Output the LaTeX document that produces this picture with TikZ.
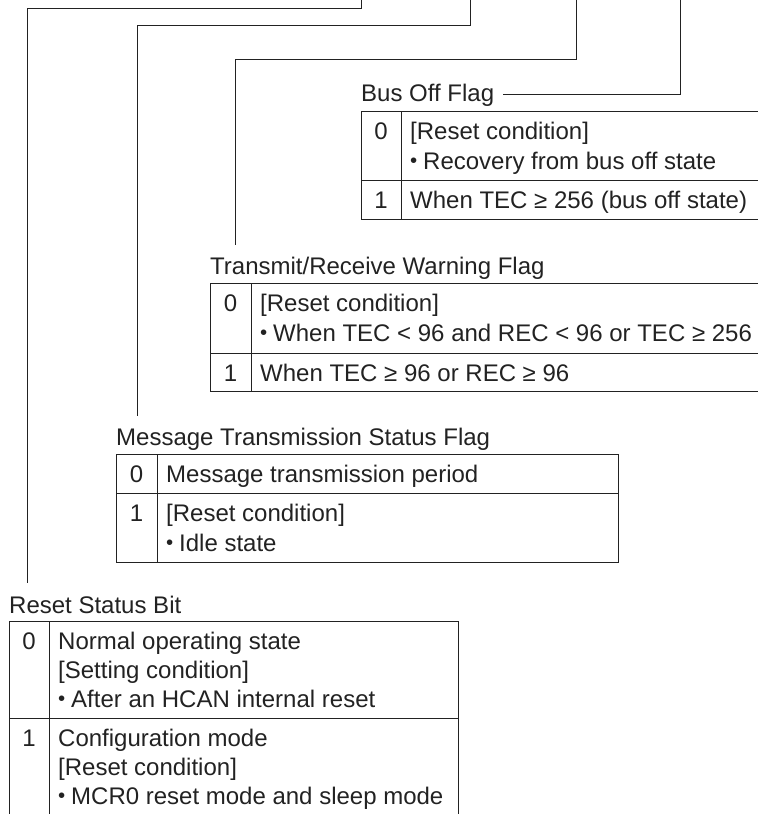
\documentclass[tikz,border=0pt]{standalone}
\usepackage{fontspec}
\setmainfont{Liberation Sans}
\definecolor{ink}{HTML}{222222}
\newcommand{\bul}{\makebox[13pt][l]{\raisebox{1.4pt}{\scalebox{0.85}{•}}}}
\begin{document}
\begin{tikzpicture}[x=1pt,y=-1pt,
  rule/.style={draw=ink,line width=1pt},
  lbl/.style={inner sep=0pt,anchor=base west,text=ink,font=\fontsize{24}{28}\selectfont},
  txt/.style={inner sep=0pt,anchor=base west,text=ink,font=\fontsize{24}{28}\selectfont},
  num/.style={inner sep=0pt,anchor=base,text=ink,font=\fontsize{24}{28}\selectfont}]
\useasboundingbox (0,0) rectangle (758,814);

% ---------- leader lines ----------
\coordinate (a0) at (361,0); \coordinate (a1) at (361,8); \coordinate (a2) at (27,583);
\coordinate (b0) at (470,0); \coordinate (b1) at (470,25); \coordinate (b2) at (137,416);
\coordinate (c0) at (576,0); \coordinate (c1) at (576,59); \coordinate (c2) at (235,245);
\coordinate (d0) at (680,0);

% ---------- Bus Off Flag ----------
\node[lbl] (bof) at (361,101) {Bus Off Flag};
\draw[rule] (361,111) -- (758,111);
\draw[rule] (361,180) -- (758,180);
\draw[rule] (361,219) -- (758,219);
\draw[rule] (361,111) -- (361,219);
\draw[rule] (401,111) -- (401,219);
\node[num] (bof0) at (381,139) {0};
\node[txt] (bof0a) at (410,139) {[Reset condition]};
\node[txt] (bof0b) at (410,169) {\bul Recovery from bus off state};
\node[num] (bof1) at (381,208) {1};
\node[txt] (bof1a) at (410,208) {When TEC ≥ 256 (bus off state)};

% ---------- Transmit/Receive Warning Flag ----------
\node[lbl] (trw) at (210,274) {Transmit/Receive Warning Flag};
\draw[rule] (210,283) -- (758,283);
\draw[rule] (210,353) -- (758,353);
\draw[rule] (210,391) -- (758,391);
\draw[rule] (210,283) -- (210,391);
\draw[rule] (251,283) -- (251,391);
\node[num] (trw0) at (230.5,311) {0};
\node[txt] (trw0a) at (260,311) {[Reset condition]};
\node[txt] (trw0b) at (260,341) {\bul When TEC < 96 and REC < 96 or TEC ≥ 256};
\node[num] (trw1) at (230.5,381) {1};
\node[txt] (trw1a) at (260,381) {When TEC ≥ 96 or REC ≥ 96};

% ---------- Message Transmission Status Flag ----------
\node[lbl] (mts) at (116,445) {Message Transmission Status Flag};
\draw[rule] (116,454) rectangle (618,562);
\draw[rule] (116,493) -- (618,493);
\draw[rule] (157,454) -- (157,562);
\node[num] (mts0) at (136.5,482) {0};
\node[txt] (mts0a) at (166,482) {Message transmission period};
\node[num] (mts1) at (136.5,521) {1};
\node[txt] (mts1a) at (166,521) {[Reset condition]};
\node[txt] (mts1b) at (166,551) {\bul Idle state};

% ---------- Reset Status Bit ----------
\node[lbl] (rsb) at (9,613) {Reset Status Bit};
\draw[rule] (9,814) -- (9,621) -- (458,621) -- (458,814);
\draw[rule] (49,621) -- (49,814);
\draw[rule] (9,718) -- (458,718);
\node[num] (rsb0) at (29,649) {0};
\node[txt] (rsb0a) at (58,649) {Normal operating state};
\node[txt] (rsb0b) at (58,678) {[Setting condition]};
\node[txt] (rsb0c) at (58,707) {\bul After an HCAN internal reset};
\node[num] (rsb1) at (29,746) {1};
\node[txt] (rsb1a) at (58,746) {Configuration mode};
\node[txt] (rsb1b) at (58,775) {[Reset condition]};
\node[txt] (rsb1c) at (58,804) {\bul MCR0 reset mode and sleep mode};

% ---------- connectors ----------
\draw[rule] (a0) -- (a1) -| (a2);
\draw[rule] (b0) -- (b1) -| (b2);
\draw[rule] (c0) -- (c1) -| (c2);
\draw[rule] (d0) |- ([xshift=9pt]bof.east);
\end{tikzpicture}
\end{document}
